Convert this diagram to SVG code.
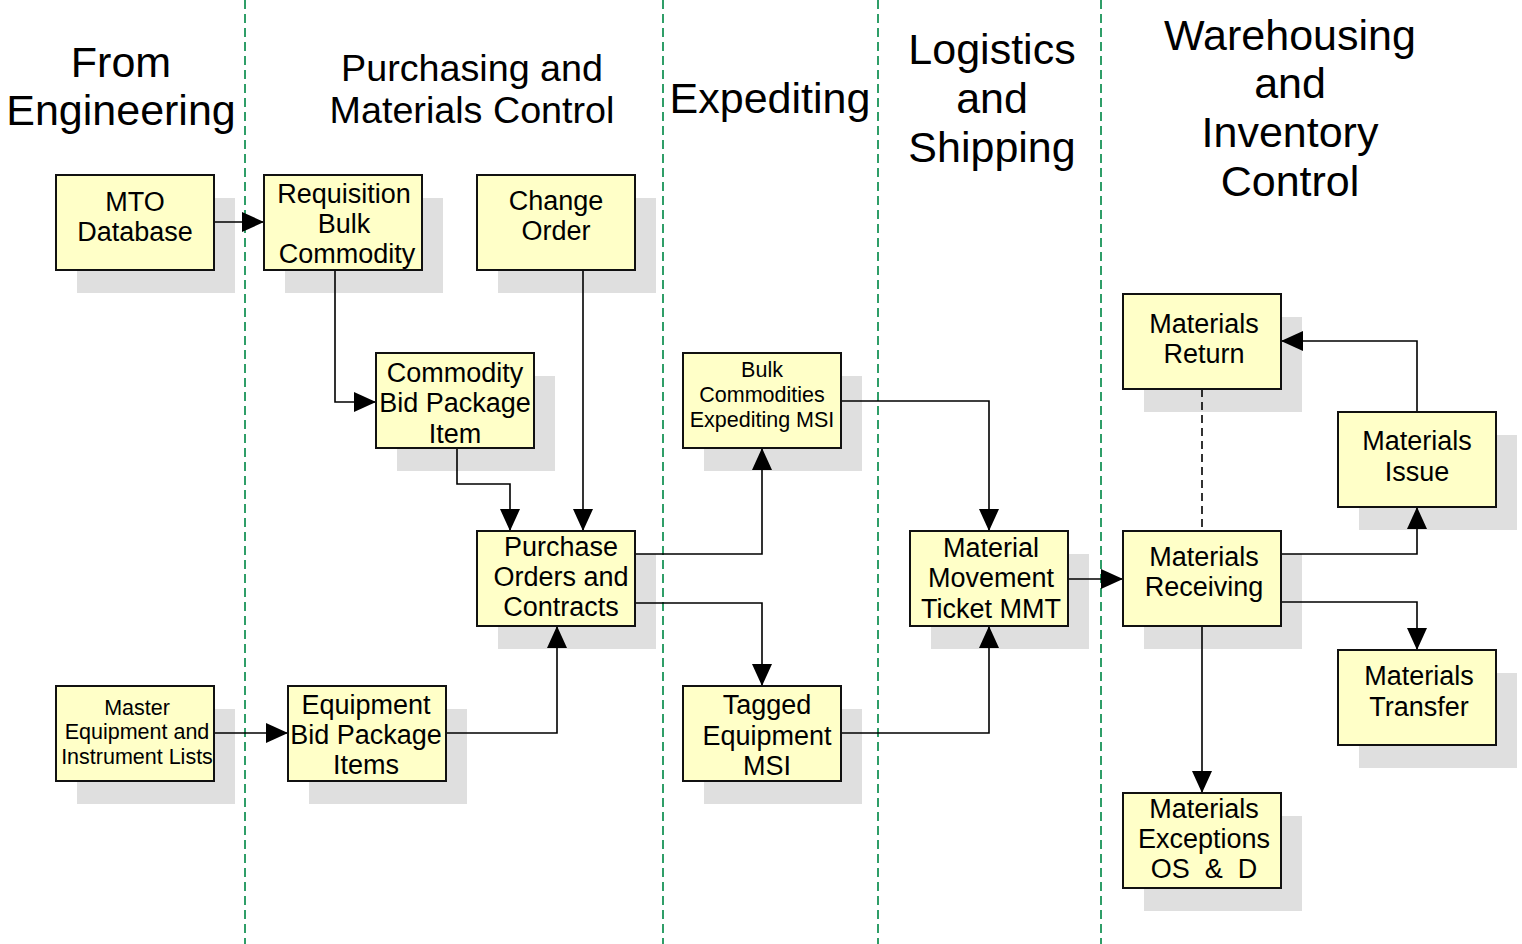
<svg xmlns="http://www.w3.org/2000/svg" width="1522" height="944" viewBox="0 0 1522 944">
<style>
.lane{stroke:#2f9e68;stroke-width:2;stroke-dasharray:9,5;fill:none}
.sh{fill:#dfdfdf}
.bx{fill:#ffffc8;stroke:#111;stroke-width:2}
.t{font-family:"Liberation Sans",Arial,sans-serif;font-size:27px;fill:#000;text-anchor:middle}
.s{font-family:"Liberation Sans",Arial,sans-serif;font-size:21.5px;fill:#000;text-anchor:middle}
.h{font-family:"Liberation Sans",Arial,sans-serif;font-size:43px;fill:#000;text-anchor:middle}
.h2{font-family:"Liberation Sans",Arial,sans-serif;font-size:37.7px;fill:#000;text-anchor:middle}
.c{stroke:#000;stroke-width:1.6;fill:none}
.d{stroke:#000;stroke-width:1.6;fill:none;stroke-dasharray:8,5}
</style>
<defs>
<marker id="ah" markerUnits="userSpaceOnUse" markerWidth="22" markerHeight="20" viewBox="0 0 22 20" refX="22" refY="10" orient="auto">
<path d="M0,0 L22,10 L0,20 z" fill="#000"/>
</marker>
</defs>
<rect width="1522" height="944" fill="#fff"/>
<g id="lanes">
<line class="lane" x1="245" y1="0" x2="245" y2="944"/>
<line class="lane" x1="663" y1="0" x2="663" y2="944"/>
<line class="lane" x1="878" y1="0" x2="878" y2="944"/>
<line class="lane" x1="1101" y1="0" x2="1101" y2="944"/>
</g>
<g id="headers">
<text class="h" x="121" y="77">From</text>
<text class="h" x="121" y="125">Engineering</text>
<text class="h2" x="472" y="81">Purchasing and</text>
<text class="h2" x="472" y="123">Materials Control</text>
<text class="h" x="770" y="113">Expediting</text>
<text class="h" x="992" y="64">Logistics</text>
<text class="h" x="992" y="113">and</text>
<text class="h" x="992" y="162">Shipping</text>
<text class="h" x="1290" y="50">Warehousing</text>
<text class="h" x="1290" y="98">and</text>
<text class="h" x="1290" y="147">Inventory</text>
<text class="h" x="1290" y="196">Control</text>
</g>
<g id="shadows">
<rect class="sh" x="77" y="198" width="158" height="95"/>
<rect class="sh" x="285" y="198" width="158" height="95"/>
<rect class="sh" x="498" y="198" width="158" height="95"/>
<rect class="sh" x="397" y="376" width="158" height="95"/>
<rect class="sh" x="498" y="554" width="158" height="95"/>
<rect class="sh" x="77" y="709" width="158" height="95"/>
<rect class="sh" x="309" y="709" width="158" height="95"/>
<rect class="sh" x="704" y="376" width="158" height="95"/>
<rect class="sh" x="704" y="709" width="158" height="95"/>
<rect class="sh" x="931" y="554" width="158" height="95"/>
<rect class="sh" x="1144" y="317" width="158" height="95"/>
<rect class="sh" x="1359" y="435" width="158" height="95"/>
<rect class="sh" x="1144" y="554" width="158" height="95"/>
<rect class="sh" x="1359" y="673" width="158" height="95"/>
<rect class="sh" x="1144" y="816" width="158" height="95"/>
</g>
<g id="connectors">
<path class="c" d="M214,222 H264" marker-end="url(#ah)"/>
<path class="c" d="M335,270 V402 H376" marker-end="url(#ah)"/>
<path class="c" d="M457,448 V484 H510 V531" marker-end="url(#ah)"/>
<path class="c" d="M583,270 V531" marker-end="url(#ah)"/>
<path class="c" d="M636,554 H762 V448" marker-end="url(#ah)"/>
<path class="c" d="M636,603 H762 V686" marker-end="url(#ah)"/>
<path class="c" d="M446,733 H557 V626" marker-end="url(#ah)"/>
<path class="c" d="M214,733 H288" marker-end="url(#ah)"/>
<path class="c" d="M841,401 H989 V531" marker-end="url(#ah)"/>
<path class="c" d="M841,733 H989 V626" marker-end="url(#ah)"/>
<path class="c" d="M1068,579 H1123" marker-end="url(#ah)"/>
<path class="c" d="M1281,554 H1417 V507" marker-end="url(#ah)"/>
<path class="c" d="M1281,602 H1417 V650" marker-end="url(#ah)"/>
<path class="c" d="M1417,412 V341 H1281" marker-end="url(#ah)"/>
<path class="c" d="M1202,626 V793" marker-end="url(#ah)"/>
<path class="d" d="M1202,389 V531"/>
</g>
<g id="mto">
<rect class="bx" x="56" y="175" width="158" height="95"/>
<text class="t" x="135" y="211">MTO</text>
<text class="t" x="135" y="241">Database</text>
</g>
<g id="requisition">
<rect class="bx" x="264" y="175" width="158" height="95"/>
<text class="t" x="344" y="203">Requisition</text>
<text class="t" x="344" y="233">Bulk</text>
<text class="t" x="347" y="263">Commodity</text>
</g>
<g id="change-order">
<rect class="bx" x="477" y="175" width="158" height="95"/>
<text class="t" x="556" y="210">Change</text>
<text class="t" x="556" y="240">Order</text>
</g>
<g id="commodity-bid">
<rect class="bx" x="376" y="353" width="158" height="95"/>
<text class="t" x="455" y="382">Commodity</text>
<text class="t" x="455" y="412">Bid Package</text>
<text class="t" x="455" y="443">Item</text>
</g>
<g id="purchase-orders">
<rect class="bx" x="477" y="531" width="158" height="95"/>
<text class="t" x="561" y="556">Purchase</text>
<text class="t" x="561" y="586">Orders and</text>
<text class="t" x="561" y="616">Contracts</text>
</g>
<g id="master-equipment">
<rect class="bx" x="56" y="686" width="158" height="95"/>
<text class="s" x="137" y="715">Master</text>
<text class="s" x="137" y="739">Equipment and</text>
<text class="s" x="137" y="764">Instrument Lists</text>
</g>
<g id="equipment-bid">
<rect class="bx" x="288" y="686" width="158" height="95"/>
<text class="t" x="366" y="714">Equipment</text>
<text class="t" x="366" y="744">Bid Package</text>
<text class="t" x="366" y="774">Items</text>
</g>
<g id="bulk-expediting">
<rect class="bx" x="683" y="353" width="158" height="95"/>
<text class="s" x="762" y="377">Bulk</text>
<text class="s" x="762" y="402">Commodities</text>
<text class="s" x="762" y="427">Expediting MSI</text>
</g>
<g id="tagged-equipment">
<rect class="bx" x="683" y="686" width="158" height="95"/>
<text class="t" x="767" y="714">Tagged</text>
<text class="t" x="767" y="745">Equipment</text>
<text class="t" x="767" y="775">MSI</text>
</g>
<g id="mmt">
<rect class="bx" x="910" y="531" width="158" height="95"/>
<text class="t" x="991" y="557">Material</text>
<text class="t" x="991" y="587">Movement</text>
<text class="t" x="991" y="618">Ticket MMT</text>
</g>
<g id="materials-return">
<rect class="bx" x="1123" y="294" width="158" height="95"/>
<text class="t" x="1204" y="333">Materials</text>
<text class="t" x="1204" y="363">Return</text>
</g>
<g id="materials-issue">
<rect class="bx" x="1338" y="412" width="158" height="95"/>
<text class="t" x="1417" y="450">Materials</text>
<text class="t" x="1417" y="481">Issue</text>
</g>
<g id="materials-receiving">
<rect class="bx" x="1123" y="531" width="158" height="95"/>
<text class="t" x="1204" y="566">Materials</text>
<text class="t" x="1204" y="596">Receiving</text>
</g>
<g id="materials-transfer">
<rect class="bx" x="1338" y="650" width="158" height="95"/>
<text class="t" x="1419" y="685">Materials</text>
<text class="t" x="1419" y="716">Transfer</text>
</g>
<g id="materials-exceptions">
<rect class="bx" x="1123" y="793" width="158" height="95"/>
<text class="t" x="1204" y="818">Materials</text>
<text class="t" x="1204" y="848">Exceptions</text>
<text class="t" x="1204" y="878" xml:space="preserve">OS  &amp;  D</text>
</g>
</svg>
